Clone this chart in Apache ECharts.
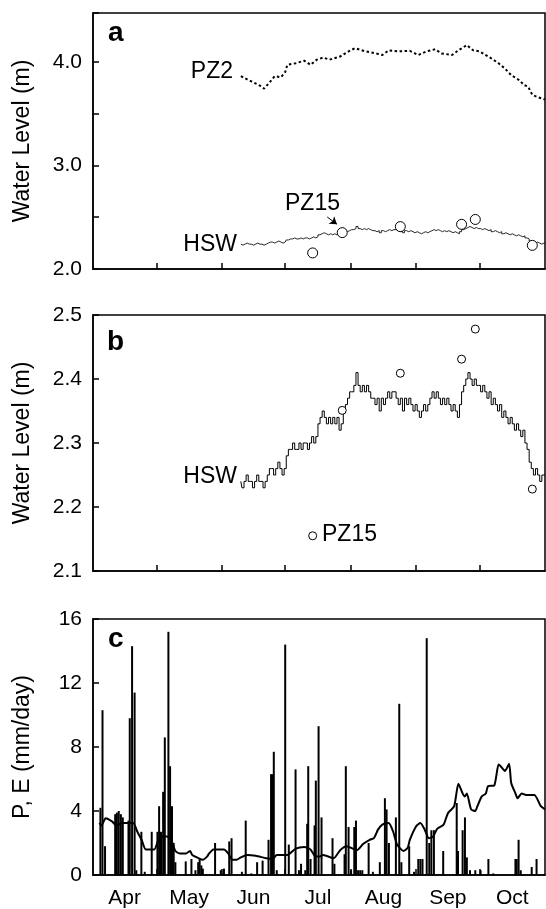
<!DOCTYPE html>
<html>
<head>
<meta charset="utf-8">
<title>Water level, P and E</title>
<script src="https://cdn.jsdelivr.net/npm/echarts@6/dist/echarts.min.js"></script>
<style>
  html, body { margin: 0; padding: 0; background: #fff; }
  #main { width: 546px; height: 909px; }
</style>
</head>
<body>
<div id="main"></div>
<script type="text/javascript">
// x axis is days since 1 April
var months = ['Apr', 'May', 'Jun', 'Jul', 'Aug', 'Sep', 'Oct'];
var monthStart = [0, 30, 61, 91, 122, 153, 183, 214];

// HSW daily water level (m), starting at day 70
var hswStartDay = 70;
var hswLevel = [
  2.24,2.23,2.24,2.25,2.24,2.24,2.23,2.24,2.25,2.24,2.24,2.23,2.24,
  2.25,2.26,2.26,2.25,2.26,2.27,2.26,2.25,2.26,
  2.28,2.29,2.29,2.30,2.29,2.29,2.30,2.29,2.30,2.30,2.29,2.30,2.31,2.30,
  2.31,2.33,2.34,2.35,
  2.34,2.33,2.34,2.33,2.34,2.33,2.34,2.32,2.33,
  2.35,2.36,2.37,2.38,
  2.38,2.39,2.41,2.39,
  2.38,2.39,2.38,2.39,2.38,2.37,
  2.37,2.36,2.37,2.35,2.37,2.36,2.37,
  2.38,2.37,2.38,2.38,2.37,
  2.36,2.37,2.35,2.37,2.36,2.37,2.36,2.35,2.36,
  2.35,2.34,2.35,2.36,2.35,
  2.36,2.37,2.38,2.37,2.38,2.37,2.36,
  2.37,2.36,2.37,2.36,2.35,2.36,2.35,2.34,
  2.36,2.38,2.39,2.40,
  2.41,2.40,2.39,2.40,2.39,2.39,
  2.38,2.39,2.38,2.37,2.38,2.36,2.37,
  2.36,2.35,2.36,2.34,2.35,
  2.34,2.33,2.34,2.33,2.32,
  2.33,2.32,2.31,2.32,2.30,
  2.29,2.27,2.26,2.25,
  2.26,2.25,2.24,2.25,2.25
];

// PZ15 manual readings
var pz15Day = [104, 118, 145.5, 174.5, 181, 208];
var pz15Level = [2.155, 2.351, 2.409, 2.431, 2.478, 2.228];

// PZ2 water level (m)
var pz2Day = [70, 75, 79, 81, 84, 86, 89, 91, 92, 96, 100, 103, 106, 109, 112, 117, 121, 124,
  129, 135, 137, 140, 145, 150, 154, 158, 162, 165, 170, 173, 177, 180, 183, 188, 192, 195,
  198, 202, 204, 206, 208, 211, 214];
var pz2Level = [3.86, 3.81, 3.77, 3.74, 3.81, 3.86, 3.85, 3.90, 3.97, 3.985, 4.01, 3.97, 4.02,
  4.04, 4.02, 4.05, 4.10, 4.13, 4.10, 4.075, 4.065, 4.11, 4.10, 4.105, 4.065, 4.10, 4.12, 4.08,
  4.065, 4.11, 4.16, 4.11, 4.10, 4.04, 3.985, 3.935, 3.87, 3.82, 3.775, 3.76, 3.68, 3.655, 3.635];

// precipitation P (mm/day)
var precipDay = [3.5, 4.5, 5.7, 10.5, 11.3, 12.2, 13.2, 14.1, 16.8, 17.4, 18.5, 19.7, 20.5,
  22.9, 24.5, 27.8, 30.5, 31.3, 32.2, 33.2, 34, 35.7, 36.5, 37.4, 38.2, 39, 43.9, 46.6, 48.5,
  49.8, 50.5, 51.3, 52, 57.8, 60.5, 62, 64.5, 65.6, 70.5, 72.3, 75, 77.7, 80.3, 83.1, 84.3, 85,
  85.6, 87, 91, 92.7, 95.9, 97.5, 98.5, 100.5, 101.4, 101.9, 103, 104.9, 105.5, 106.8, 108.2,
  113.4, 114.3, 119.1, 119.7, 121, 122.2, 123.7, 124.5, 125.5, 126.5, 127.5, 130.5, 132.5,
  135.8, 138.2, 139, 140.1, 143.4, 145, 146, 149.7, 152, 154, 155, 156, 158, 159.2, 160.2,
  161.4, 165.8, 172.2, 172.8, 175, 176.1, 177, 178.5, 181, 183.5, 187.2, 189.5, 200, 200.6,
  201.5, 202.5, 207.7, 210];
var precipValue = [4.2, 10.3, 1.8, 3.8, 3.9, 4.0, 3.8, 3.6, 3.4, 9.8, 14.3, 11.4, 0.3,
  2.7, 0.2, 2.7, 2.7, 4.3, 2.7, 5.2, 8.6, 15.2, 6.8, 4.3, 2.0, 0.8, 0.85, 1.0, 0.3,
  0.8, 1.0, 0.6, 0.4, 2.0, 0.3, 0.4, 2.1, 2.3, 0.2, 3.4, 0.1, 0.8, 0.9, 2.2, 6.3, 6.3,
  7.7, 0.3, 14.4, 1.9, 6.6, 0.3, 0.7, 0.3, 3.2, 6.8, 1.0, 3.1, 5.9, 9.3, 3.6,
  2.3, 0.7, 1.3, 6.8, 3.0, 0.3, 3.0, 3.4, 0.3, 0.3, 0.3, 2.0, 0.2,
  0.8, 4.8, 4.1, 2.0, 3.6, 10.7, 0.8, 1.8, 0.2, 1.0, 1.0, 1.0, 14.8, 2.0, 2.8,
  2.8, 1.5, 4.5, 1.5, 2.8, 3.6, 1.1, 0.3, 0.3, 0.3, 1.0, 0.1, 1.0, 1.0,
  2.2, 0.3, 0.5, 1.0];

// evaporation E (mm/day)
var evapDay = [3, 4, 6, 9, 11, 14, 19, 21, 23, 25, 29, 31, 33, 35, 37, 39, 41, 44, 46, 47, 50,
  52, 54, 55, 57, 62, 64, 66, 68, 70, 73, 77, 82, 85, 87, 92, 96, 100, 103, 105, 107, 109, 114,
  117, 120, 123, 125, 128, 131, 133, 135, 137, 140, 142, 144, 147, 149, 150, 153, 155, 157, 159,
  161, 163, 166, 168, 171, 173, 175, 176, 177, 179, 181, 182, 184, 186, 187, 190, 192, 193, 195,
  197, 198, 200, 201, 203, 205, 209, 212, 214];
var evapValue = [3.25, 3.1, 3.55, 3.35, 3.1, 3.25, 3.25, 2.7, 2.2, 1.6, 1.6, 2.2, 2.4, 2.4, 2.2,
  1.5, 1.35, 1.35, 1.5, 1.25, 1.05, 0.95, 1.15, 1.35, 1.6, 1.6, 1.35, 0.95, 0.95, 1.1, 1.25, 1.2,
  1.05, 1.0, 1.25, 1.25, 1.65, 1.75, 1.6, 1.2, 1.15, 1.25, 1.05, 1.55, 1.8, 1.65, 1.55, 1.95, 2.2,
  2.3, 2.85, 3.15, 3.25, 2.75, 1.9, 1.5, 1.7, 2.2, 3.05, 3.25, 2.85, 2.3, 2.4, 2.9, 3.15, 3.85,
  4.3, 5.7, 5.1, 4.9, 5.1, 4.1, 4.0, 4.3, 4.9, 5.1, 5.55, 5.6, 6.9, 6.8, 6.5, 6.95, 5.75, 5.1,
  4.8, 5.1, 5.0, 5.0, 4.3, 4.1];

var FONT = '"Liberation Sans", Arial, sans-serif';

function pairs(xs, ys) {
    var out = [];
    for (var i = 0; i < xs.length; i++) out.push([xs[i], ys[i]]);
    return out;
}

var hswData = [];
for (var i = 0; i < hswLevel.length; i++) hswData.push([hswStartDay + i, hswLevel[i]]);

var monthMid = [];
for (var m = 0; m < months.length; m++) monthMid.push((monthStart[m] + monthStart[m + 1]) / 2);
var monthTicks = monthStart.slice(1, 7);

function xAxisFor(idx, withLabels) {
    return {
        type: 'value', gridIndex: idx, min: 0, max: 214,
        axisLine: { show: true, lineStyle: { color: '#000', width: 1.5 } },
        axisTick: { show: true, inside: true, length: 6, customValues: monthTicks,
            lineStyle: { color: '#000', width: 1.5 } },
        axisLabel: {
            show: withLabels, customValues: monthMid, margin: 13,
            color: '#000', fontSize: 21, fontFamily: FONT,
            formatter: function (v) { return months[monthMid.indexOf(v)] || ''; }
        },
        splitLine: { show: false }
    };
}

function yAxisFor(idx, min, max, interval, name, fmt) {
    return {
        type: 'value', gridIndex: idx, min: min, max: max, interval: interval,
        name: name, nameLocation: 'middle', nameGap: 59,
        nameTextStyle: { color: '#000', fontSize: 23, fontFamily: FONT },
        axisLine: { show: true, lineStyle: { color: '#000', width: 1.5 } },
        axisTick: { show: true, inside: true, length: 6, lineStyle: { color: '#000', width: 1.5 } },
        axisLabel: { color: '#000', fontSize: 21, fontFamily: FONT, margin: 11, formatter: fmt },
        splitLine: { show: false }
    };
}

function annot(text, x, y, align, size, bold) {
    return {
        type: 'text', x: x, y: y, z: 100,
        style: {
            text: text, fill: '#000', align: align, verticalAlign: 'middle',
            font: (bold ? 'bold ' : '') + size + 'px ' + FONT
        }
    };
}

var myChart = echarts.init(document.getElementById('main'), null, { renderer: 'canvas' });

var option = {
    animation: false,
    backgroundColor: '#fff',
    grid: [
        { left: 93, right: 1, top: 13, height: 256, show: true, borderColor: '#000', borderWidth: 1.5 },
        { left: 93, right: 1, top: 315, height: 256, show: true, borderColor: '#000', borderWidth: 1.5 },
        { left: 93, right: 1, top: 619, height: 256, show: true, borderColor: '#000', borderWidth: 1.5 }
    ],
    xAxis: [xAxisFor(0, false), xAxisFor(1, false), xAxisFor(2, true)],
    yAxis: [
        yAxisFor(0, 2, 4.47, 0.5, 'Water Level (m)', function (v) {
            return Math.abs(v - Math.round(v)) < 1e-6 ? v.toFixed(1) : '';
        }),
        yAxisFor(1, 2.1, 2.5, 0.1, 'Water Level (m)', function (v) { return v.toFixed(1); }),
        yAxisFor(2, 0, 16, 4, 'P, E (mm/day)', function (v) { return String(v); })
    ],
    series: [
        {
            name: 'PZ2', type: 'line', xAxisIndex: 0, yAxisIndex: 0,
            data: pairs(pz2Day, pz2Level), symbol: 'none',
            lineStyle: { color: '#000', width: 2, type: [2.5, 2.5] }
        },
        {
            name: 'HSW a', type: 'line', xAxisIndex: 0, yAxisIndex: 0,
            data: hswData, symbol: 'none', step: 'middle',
            lineStyle: { color: '#111', width: 0.9 }
        },
        {
            name: 'PZ15 a', type: 'scatter', xAxisIndex: 0, yAxisIndex: 0, z: 5,
            data: pairs(pz15Day, pz15Level), symbol: 'circle', symbolSize: 10,
            itemStyle: { color: '#fff', borderColor: '#000', borderWidth: 1, opacity: 1 },
            markLine: {
                silent: true, symbol: ['none', 'arrow'], symbolSize: 7,
                label: { show: false },
                lineStyle: { color: '#000', width: 1, type: 'solid' },
                data: [[{ coord: [110.9, 2.502] }, { coord: [115.5, 2.432] }]]
            }
        },
        {
            name: 'HSW b', type: 'line', xAxisIndex: 1, yAxisIndex: 1,
            data: hswData, symbol: 'none', step: 'middle',
            lineStyle: { color: '#000', width: 1 }
        },
        {
            name: 'PZ15 b', type: 'scatter', xAxisIndex: 1, yAxisIndex: 1, z: 5,
            data: pairs(pz15Day, pz15Level), symbol: 'circle', symbolSize: 8,
            itemStyle: { color: '#fff', borderColor: '#000', borderWidth: 1, opacity: 1 }
        },
        {
            name: 'P', type: 'bar', xAxisIndex: 2, yAxisIndex: 2,
            data: pairs(precipDay, precipValue), barWidth: 2,
            itemStyle: { color: '#000' }
        },
        {
            name: 'E', type: 'line', xAxisIndex: 2, yAxisIndex: 2,
            data: pairs(evapDay, evapValue), symbol: 'none', smooth: 0.2,
            lineStyle: { color: '#000', width: 2 }
        }
    ],
    graphic: [
        annot('a', 108, 33, 'left', 28, true),
        annot('b', 107, 342, 'left', 28, true),
        annot('c', 108, 639, 'left', 28, true),
        annot('PZ2', 233, 72, 'right', 23, false),
        annot('HSW', 237, 245, 'right', 23, false),
        annot('PZ15', 285, 204, 'left', 23, false),
        annot('HSW', 237, 477, 'right', 23, false),
        annot('PZ15', 322, 535, 'left', 23, false)
    ]
};

myChart.setOption(option);
</script>
</body>
</html>
